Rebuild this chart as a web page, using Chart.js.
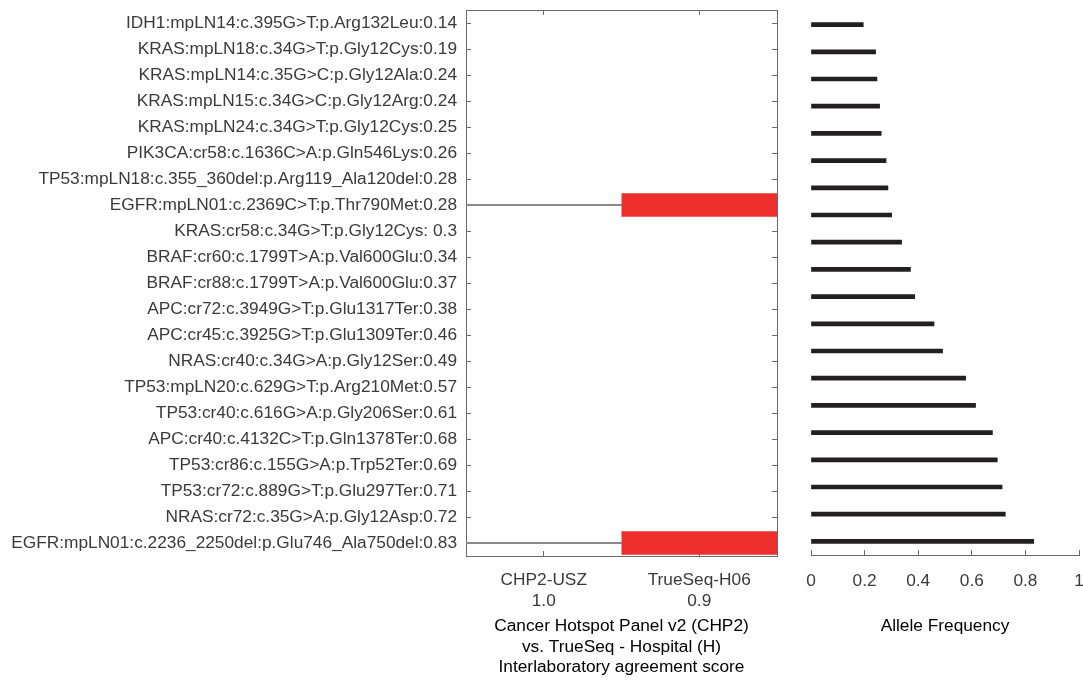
<!DOCTYPE html>
<html><head><meta charset="utf-8">
<script src="https://cdn.jsdelivr.net/npm/chart.js@4/dist/chart.umd.min.js"></script>
<style>
html,body{margin:0;padding:0;background:#fff;}
#wrap{position:relative;width:1083px;height:680px;overflow:hidden;}
#c1{position:absolute;left:0;top:0;}
#c2{position:absolute;left:785px;top:0;}
</style></head><body>
<div id="wrap"><canvas id="c1" width="785" height="680"></canvas><canvas id="c2" width="298" height="680"></canvas></div>
<script>
// ---- data ----
const variants = [
  'IDH1:mpLN14:c.395G>T:p.Arg132Leu:0.14',
  'KRAS:mpLN18:c.34G>T:p.Gly12Cys:0.19',
  'KRAS:mpLN14:c.35G>C:p.Gly12Ala:0.24',
  'KRAS:mpLN15:c.34G>C:p.Gly12Arg:0.24',
  'KRAS:mpLN24:c.34G>T:p.Gly12Cys:0.25',
  'PIK3CA:cr58:c.1636C>A:p.Gln546Lys:0.26',
  'TP53:mpLN18:c.355_360del:p.Arg119_Ala120del:0.28',
  'EGFR:mpLN01:c.2369C>T:p.Thr790Met:0.28',
  'KRAS:cr58:c.34G>T:p.Gly12Cys: 0.3',
  'BRAF:cr60:c.1799T>A:p.Val600Glu:0.34',
  'BRAF:cr88:c.1799T>A:p.Val600Glu:0.37',
  'APC:cr72:c.3949G>T:p.Glu1317Ter:0.38',
  'APC:cr45:c.3925G>T:p.Glu1309Ter:0.46',
  'NRAS:cr40:c.34G>A:p.Gly12Ser:0.49',
  'TP53:mpLN20:c.629G>T:p.Arg210Met:0.57',
  'TP53:cr40:c.616G>A:p.Gly206Ser:0.61',
  'APC:cr40:c.4132C>T:p.Gln1378Ter:0.68',
  'TP53:cr86:c.155G>A:p.Trp52Ter:0.69',
  'TP53:cr72:c.889G>T:p.Glu297Ter:0.71',
  'NRAS:cr72:c.35G>A:p.Gly12Asp:0.72',
  'EGFR:mpLN01:c.2236_2250del:p.Glu746_Ala750del:0.83'
];
const panelColumns = ['CHP2-USZ', 'TrueSeq-H06'];
const agreementScores = ['1.0', '0.9'];
const columnPositions = [1, 2];
const h06Discordant = [0,0,0,0,0,0,0,1,0,0,0,0,0,0,0,0,0,0,0,0,1];
const leftTitle = ['Cancer Hotspot Panel v2 (CHP2)', 'vs. TrueSeq - Hospital (H)', 'Interlaboratory agreement score'];

const afCategories = variants.slice(1);
const alleleFreq = [0.195,0.241,0.246,0.256,0.262,0.28,0.287,0.301,0.338,0.371,0.387,0.459,0.491,0.577,0.614,0.677,0.695,0.713,0.725,0.831];
const afTitle = 'Allele Frequency';

// ---- styling ----
Chart.defaults.font.family = "'Liberation Sans', Arial, Helvetica, sans-serif";
Chart.defaults.font.size = 17.3;
Chart.defaults.font.lineHeight = 1.2;
Chart.defaults.color = '#3a3a3a';
const axisGrey = '#6a6a6a';

const tickSet = (scale) => { scale.ticks = columnPositions.map(v => ({value: v})); };
const noPad = (s) => { s.paddingTop = 0; s.paddingBottom = 0; s.paddingLeft = 0; s.paddingRight = 0; };

new Chart(document.getElementById('c1'), {
  type: 'bar',
  data: {
    labels: variants,
    datasets: [
      {
        data: h06Discordant.map(f => f ? [columnPositions[0] - 0.5, columnPositions[1] - 0.5] : null),
        backgroundColor: '#8a8a8a', barThickness: 1.3, grouped: false, order: 2
      },
      {
        data: h06Discordant.map(f => f ? [columnPositions[1] - 0.5, columnPositions[1] + 0.5] : null),
        backgroundColor: '#ee2e2c', barPercentage: 0.9, categoryPercentage: 1, grouped: false, order: 1
      }
    ]
  },
  options: {
    indexAxis: 'y', responsive: false, animation: false, devicePixelRatio: 1,
    layout: {padding: {top: 10, right: 8, left: 0, bottom: 0}},
    plugins: {legend: {display: false}, tooltip: {enabled: false}},
    scales: {
      y: {
        type: 'category', position: 'left', offset: true,
        border: {display: true, color: axisGrey, width: 1},
        grid: {drawOnChartArea: false, offset: false, tickLength: -5, color: axisGrey},
        ticks: {autoSkip: false, padding: 14, color: '#3a3a3a'},
        afterFit: s => { s.width = 466; noPad(s); }
      },
      y2: {
        type: 'category', position: 'right', offset: true,
        border: {display: true, color: axisGrey, width: 1},
        grid: {drawOnChartArea: false, offset: false, tickLength: -5, color: axisGrey},
        ticks: {display: false},
        afterFit: s => { s.width = 0; noPad(s); }
      },
      x: {
        type: 'linear', position: 'bottom', min: 0.5, max: 2.5,
        border: {display: true, color: axisGrey, width: 1},
        grid: {drawOnChartArea: false, tickLength: -5, color: axisGrey},
        afterBuildTicks: tickSet,
        ticks: {
          padding: 19, color: '#3a3a3a', maxRotation: 0,
          callback: (v) => { const i = columnPositions.indexOf(v); return [panelColumns[i], agreementScores[i]]; }
        },
        title: {display: true, text: leftTitle, color: '#000', padding: {top: 0, bottom: 2}},
        afterFit: s => { s.height = 124; noPad(s); }
      },
      x2: {
        type: 'linear', position: 'top', min: 0.5, max: 2.5,
        border: {display: true, color: axisGrey, width: 1},
        grid: {drawOnChartArea: false, tickLength: -5, color: axisGrey},
        afterBuildTicks: tickSet,
        ticks: {display: false},
        afterFit: s => { s.height = 0; noPad(s); }
      }
    }
  }
});

new Chart(document.getElementById('c2'), {
  type: 'bar',
  data: {
    labels: afCategories,
    datasets: [{data: alleleFreq, backgroundColor: '#231f20', barThickness: 4}]
  },
  options: {
    indexAxis: 'y', responsive: false, animation: false, devicePixelRatio: 1,
    layout: {padding: {top: 11, right: 4, left: 26, bottom: 0}},
    plugins: {legend: {display: false}, tooltip: {enabled: false}},
    scales: {
      y: {type: 'category', display: false, offset: true, afterFit: noPad},
      x: {
        type: 'linear', min: 0, max: 1,
        border: {display: true, color: axisGrey, width: 1},
        grid: {drawOnChartArea: false, tickLength: -5, color: axisGrey},
        ticks: {stepSize: 0.2, padding: 21, color: '#3a3a3a', maxRotation: 0,
          callback: v => String(Number(v.toFixed(2)))},
        title: {display: true, text: afTitle, color: '#000', padding: {top: 0, bottom: 43}},
        afterFit: s => { s.height = 125; noPad(s); }
      }
    }
  }
});
</script>
</body></html>
